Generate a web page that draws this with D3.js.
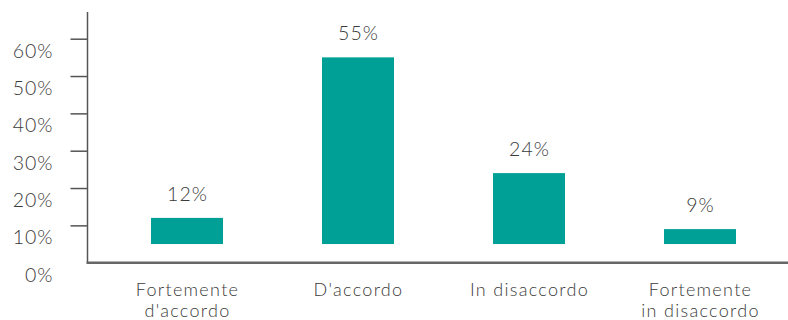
<!DOCTYPE html>
<html>
<head>
<meta charset="utf-8">
<script src="https://cdn.jsdelivr.net/npm/d3@7"></script>
<style>
  body { margin: 0; background: #fff; }
  text { font-family: Lato, "Open Sans", sans-serif; font-weight: 300; fill: #3a3a3a; letter-spacing: 1px; }
</style>
</head>
<body>
<svg id="chart" width="788" height="320"></svg>
<script>
var categories = [["Fortemente", "d'accordo"], ["D'accordo"], ["In disaccordo"], ["Fortemente", "in disaccordo"]];
var values = [12, 55, 24, 9];
var tickValues = [0, 10, 20, 30, 40, 50, 60];
var barBase = 5; // bars sit a little above the axis in the original

var svg = d3.select("#chart");
var teal = "#00a096";

var x = d3.scaleBand()
    .domain(d3.range(values.length))
    .range([101.5, 785.5])
    .paddingInner(0.579)
    .paddingOuter(0.2895);

var y = d3.scaleLinear().domain([0, 60]).range([262.7, 38.7]);

// y axis
var yAxis = svg.append("g")
    .attr("transform", "translate(87.5,0)")
    .call(d3.axisLeft(y).tickValues(tickValues).tickSize(17).tickSizeOuter(0).tickPadding(17)
        .tickFormat(function (d) { return d + "%"; }));
yAxis.select(".domain").remove();
yAxis.selectAll(".tick line").attr("stroke", "#555").attr("stroke-width", 1.5)
    .filter(function (d) { return d === 0; }).remove();
yAxis.selectAll(".tick text").attr("dy", "0.95em").attr("font-size", 19.5)
    .style("font-family", null);
yAxis.append("line")
    .attr("x1", 0).attr("x2", 0)
    .attr("y1", 12).attr("y2", y(0))
    .attr("stroke", "#555").attr("stroke-width", 1.5);

// x axis line
svg.append("line")
    .attr("x1", 86.5).attr("x2", 788)
    .attr("y1", y(0)).attr("y2", y(0))
    .attr("stroke", "#666").attr("stroke-width", 2.5);

// bars
svg.selectAll("rect.bar")
    .data(values)
    .enter()
    .append("rect")
        .attr("class", "bar")
        .attr("x", function (d, i) { return x(i); })
        .attr("width", x.bandwidth())
        .attr("y", function (d) { return y(d); })
        .attr("height", function (d) { return y(barBase) - y(d); })
        .style("fill", teal);

// value labels
svg.selectAll("text.val")
    .data(values)
    .enter()
    .append("text")
        .attr("class", "val")
        .attr("x", function (d, i) { return x(i) + x.bandwidth() / 2 + 0.5; })
        .attr("y", function (d) { return y(d) - 17; })
        .attr("text-anchor", "middle")
        .attr("font-size", 19.5)
        .text(function (d) { return d + "%"; });

// category labels
var cat = svg.selectAll("text.cat")
    .data(categories)
    .enter()
    .append("text")
        .attr("class", "cat")
        .attr("x", function (d, i) { return x(i) + x.bandwidth() / 2 + 0.5; })
        .attr("y", 295.5)
        .attr("text-anchor", "middle")
        .attr("font-size", 18)
        .style("letter-spacing", "1.3px");
cat.selectAll("tspan")
    .data(function (d) { return d; })
    .enter()
    .append("tspan")
        .attr("x", function () { return d3.select(this.parentNode).attr("x"); })
        .attr("dy", function (d, i) { return i === 0 ? 0 : 21.6; })
        .text(function (d) { return d; });
</script>
</body>
</html>
